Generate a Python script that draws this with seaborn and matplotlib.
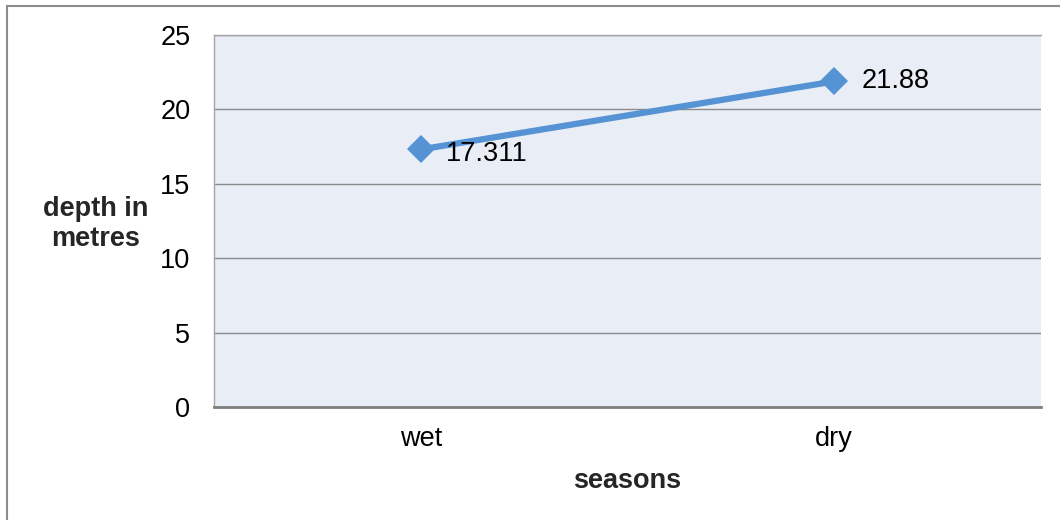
import pandas as pd
import matplotlib.pyplot as plt
from matplotlib.patches import Rectangle
import seaborn as sns

# === Data ===
seasons = ["wet", "dry"]
depths = [17.311, 21.88]
value_labels = ["17.311", "21.88"]
y_ticks = [0, 5, 10, 15, 20, 25]

df = pd.DataFrame({"season": seasons, "depth": depths})

sns.set_style("white")
plt.rcParams["font.family"] = ["Liberation Sans", "DejaVu Sans"]

fig = plt.figure(figsize=(10.6, 5.2), dpi=100)
ax = fig.add_axes([0.2019, 0.2173, 0.780, 0.7154])
ax.set_facecolor("#E9EDF5")

# outer chart border (only left and top visible in the crop)
fig.patches.append(Rectangle((7 / 1060, -0.1), 1.2, 1 - 6 / 520 + 0.1,
                             transform=fig.transFigure, fill=False,
                             edgecolor="#8C8C8C", linewidth=1.5))

sns.lineplot(data=df, x="season", y="depth", ax=ax, color="#5593D4",
             linewidth=4.5, marker="D", markersize=14, markeredgewidth=0,
             sort=False)

fs = 19.5
for x, y, lab in zip(range(len(seasons)), depths, value_labels):
    ax.annotate(lab, (x, y), xytext=(18 if x == 0 else 20, -3 if x == 0 else 0),
                textcoords="offset points", va="center", ha="left",
                fontsize=fs, color="black")

ax.set_xlim(-0.5, 1.5)
ax.set_ylim(0, 25)
ax.set_yticks(y_ticks)
ax.set_yticklabels([str(t) for t in y_ticks])
ax.yaxis.grid(True, color="#8C8C8C", linewidth=1)
ax.set_axisbelow(True)
ax.tick_params(axis="both", length=0, labelsize=fs, colors="black")
ax.tick_params(axis="y", pad=17)
ax.tick_params(axis="x", pad=14)

for side in ["left", "top"]:
    ax.spines[side].set_color("#A6A6A6")
    ax.spines[side].set_linewidth(1)
ax.spines["right"].set_visible(False)
ax.spines["bottom"].set_color("#7F7F7F")
ax.spines["bottom"].set_linewidth(2)

ax.set_xlabel("seasons", fontsize=fs, fontweight="bold", labelpad=11)
ax.set_ylabel("")
fig.text(96 / 1060, 1 - 224 / 520, "depth in\nmetres", fontsize=fs,
         fontweight="bold", ha="center", va="center", linespacing=1.25)

fig.savefig("out.png", dpi=100)
